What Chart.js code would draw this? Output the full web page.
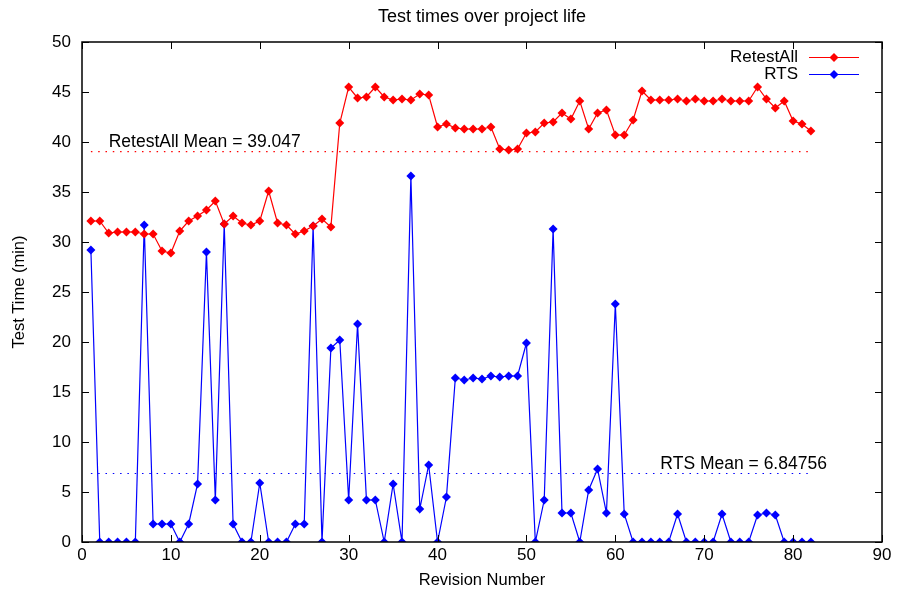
<!DOCTYPE html>
<html>
<head>
<meta charset="utf-8">
<script src="https://cdn.jsdelivr.net/npm/chart.js@4/dist/chart.umd.min.js"></script>
<style>
  html, body { margin: 0; padding: 0; background: #fff; }
  #wrap { width: 897px; height: 597px; }
</style>
</head>
<body>
<div id="wrap"><canvas id="myChart"></canvas></div>
<script>
// Data. Revisions 1..82
const revisions = Array.from({ length: 82 }, (_, i) => i + 1);

const retestAll = [
  32.1, 32.1, 30.9, 31.0, 31.0, 31.0, 30.8, 30.8, 29.1, 28.9,
  31.1, 32.1, 32.6, 33.2, 34.1, 31.8, 32.6, 31.9, 31.7, 32.1,
  35.1, 31.9, 31.7, 30.8, 31.1, 31.6, 32.3, 31.5, 41.9, 45.5,
  44.4, 44.5, 45.5, 44.5, 44.2, 44.3, 44.2, 44.8, 44.7, 41.5,
  41.8, 41.4, 41.3, 41.3, 41.3, 41.5, 39.3, 39.2, 39.3, 40.9,
  41.0, 41.9, 42.0, 42.9, 42.3, 44.1, 41.3, 42.9, 43.2, 40.7,
  40.7, 42.2, 45.1, 44.2, 44.2, 44.2, 44.3, 44.1, 44.3, 44.1,
  44.1, 44.3, 44.1, 44.1, 44.1, 45.5, 44.3, 43.4, 44.1, 42.1,
  41.8, 41.1
];

const rts = [
  29.2, 0, 0, 0, 0, 0, 31.7, 1.8, 1.8, 1.8,
  0, 1.8, 5.8, 29.0, 4.2, 31.8, 1.8, 0, 0, 5.9,
  0, 0, 0, 1.8, 1.8, 31.6, 0, 19.4, 20.2, 4.2,
  21.8, 4.2, 4.2, 0, 5.8, 0, 36.6, 3.3, 7.7, 0,
  4.5, 16.4, 16.2, 16.4, 16.3, 16.6, 16.5, 16.6, 16.6, 19.9,
  0, 4.2, 31.3, 2.9, 2.9, 0, 5.2, 7.3, 2.9, 23.8,
  2.8, 0, 0, 0, 0, 0, 2.8, 0, 0, 0,
  0, 2.8, 0, 0, 0, 2.7, 2.9, 2.7, 0, 0,
  0, 0
];

const retestAllMean = 39.047;
const rtsMean = 6.84756;

const xTicks = [0, 10, 20, 30, 40, 50, 60, 70, 80, 90];
const yTicks = [0, 5, 10, 15, 20, 25, 30, 35, 40, 45, 50];

const FONT = 'Liberation Sans, Arial, Helvetica, sans-serif';

function toPoints(xs, ys) {
  return xs.map((x, i) => ({ x: x, y: ys[i] }));
}

// frame, inward ticks, title, legend and mean labels (gnuplot look)
const gnuplotPlugin = {
  id: 'gnuplotLook',
  afterDraw(chart) {
    const ctx = chart.ctx;
    const a = chart.chartArea;
    const xs = chart.scales.x, ys = chart.scales.y;
    ctx.save();

    // ticks
    ctx.strokeStyle = '#000';
    ctx.lineWidth = 1;
    ctx.beginPath();
    xTicks.forEach(v => {
      const px = Math.round(xs.getPixelForValue(v)) + 0.5;
      ctx.moveTo(px, a.bottom); ctx.lineTo(px, a.bottom - 7);
      ctx.moveTo(px, a.top); ctx.lineTo(px, a.top + 7);
    });
    yTicks.forEach(v => {
      const py = Math.round(ys.getPixelForValue(v)) + 0.5;
      ctx.moveTo(a.left, py); ctx.lineTo(a.left + 7, py);
      ctx.moveTo(a.right, py); ctx.lineTo(a.right - 7, py);
    });
    ctx.stroke();

    // frame
    ctx.lineWidth = 1.5;
    ctx.strokeRect(a.left, a.top, a.right - a.left, a.bottom - a.top);

    // title
    ctx.fillStyle = '#000';
    ctx.font = '18px ' + FONT;
    ctx.textAlign = 'center';
    ctx.textBaseline = 'middle';
    ctx.fillText('Test times over project life', (a.left + a.right) / 2, 17);

    // mean labels
    ctx.font = '17.5px ' + FONT;
    ctx.textBaseline = 'alphabetic';
    ctx.textAlign = 'left';
    ctx.fillText('RetestAll Mean = ' + retestAllMean, xs.getPixelForValue(3), ys.getPixelForValue(retestAllMean) - 5);
    ctx.textAlign = 'right';
    ctx.fillText('RTS Mean = ' + rtsMean, xs.getPixelForValue(83.8), ys.getPixelForValue(rtsMean) - 5);

    // legend
    ctx.font = '17px ' + FONT;
    const items = [
      { label: 'RetestAll', color: 'rgb(255,0,0)', y: 57.5 },
      { label: 'RTS', color: 'rgb(0,0,255)', y: 74.5 }
    ];
    items.forEach(it => {
      ctx.fillStyle = '#000';
      ctx.textAlign = 'right';
      ctx.textBaseline = 'middle';
      ctx.fillText(it.label, 798, it.y);
      ctx.strokeStyle = it.color;
      ctx.lineWidth = 1.2;
      ctx.beginPath();
      ctx.moveTo(809, it.y); ctx.lineTo(859, it.y);
      ctx.stroke();
      ctx.fillStyle = it.color;
      ctx.beginPath();
      ctx.moveTo(834, it.y - 4.5); ctx.lineTo(838.5, it.y);
      ctx.lineTo(834, it.y + 4.5); ctx.lineTo(829.5, it.y);
      ctx.closePath();
      ctx.fill();
    });

    ctx.restore();
  }
};

const ctx = document.getElementById('myChart').getContext('2d');
const chart = new Chart(ctx, {
  type: 'line',
  data: {
    datasets: [
      {
        label: 'RetestAll',
        data: toPoints(revisions, retestAll),
        borderColor: 'rgb(255,0,0)',
        backgroundColor: 'rgb(255,0,0)',
        borderWidth: 1.2,
        pointStyle: 'rectRot',
        pointRadius: 4.5,
        pointBorderWidth: 0,
        tension: 0
      },
      {
        label: 'RTS',
        data: toPoints(revisions, rts),
        borderColor: 'rgb(0,0,255)',
        backgroundColor: 'rgb(0,0,255)',
        borderWidth: 1.2,
        pointStyle: 'rectRot',
        pointRadius: 4.5,
        pointBorderWidth: 0,
        tension: 0
      },
      {
        label: 'RetestAll Mean',
        data: [{ x: revisions[0], y: retestAllMean }, { x: revisions[revisions.length - 1], y: retestAllMean }],
        borderColor: 'rgb(255,0,0)',
        borderWidth: 1.2,
        borderDash: [1.5, 5.8],
        pointRadius: 0
      },
      {
        label: 'RTS Mean',
        data: [{ x: revisions[0], y: rtsMean }, { x: revisions[revisions.length - 1], y: rtsMean }],
        borderColor: 'rgb(0,0,255)',
        borderWidth: 1.2,
        borderDash: [1.5, 5.8],
        pointRadius: 0
      }
    ]
  },
  options: {
    responsive: true,
    maintainAspectRatio: false,
    animation: false,
    layout: { padding: { top: 42, right: 15, left: 0, bottom: 0 } },
    plugins: {
      legend: { display: false },
      title: { display: false },
      tooltip: { enabled: false }
    },
    scales: {
      x: {
        type: 'linear',
        min: 0,
        max: 90,
        afterFit: s => { s.height = 55; },
        afterBuildTicks: s => { s.ticks = xTicks.map(v => ({ value: v })); },
        grid: { display: false, drawTicks: false },
        border: { display: false },
        ticks: { color: '#000', padding: 3, font: { family: FONT, size: 17 }, maxRotation: 0 },
        title: { display: true, text: 'Revision Number', color: '#000', font: { family: FONT, size: 16.5 }, padding: { top: 0, bottom: 7 } }
      },
      y: {
        min: 0,
        max: 50,
        afterFit: s => { s.width = 82; },
        afterBuildTicks: s => { s.ticks = yTicks.map(v => ({ value: v })); },
        grid: { display: false, drawTicks: false },
        border: { display: false },
        ticks: { color: '#000', padding: 11, font: { family: FONT, size: 17 } },
        title: { display: true, text: 'Test Time (min)', color: '#000', font: { family: FONT, size: 16.5 }, padding: { top: 10, bottom: 0 } }
      }
    }
  },
  plugins: [gnuplotPlugin]
});
</script>
</body>
</html>
